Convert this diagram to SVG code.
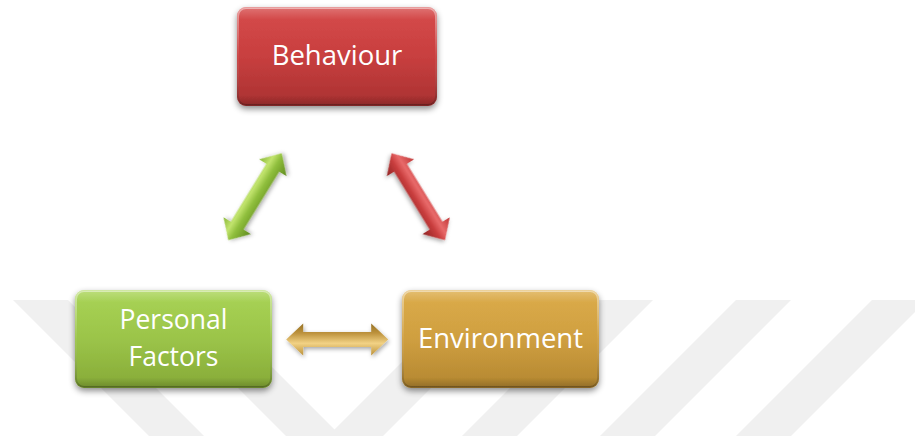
<svg xmlns="http://www.w3.org/2000/svg" width="915" height="436" viewBox="0 0 915 436">
<defs>
<style>
.wm{fill:#f0f0f0}
.lbl{font-family:"Open Sans",Lato,"Liberation Sans",sans-serif;font-size:27.5px;font-weight:400;fill:#ffffff;text-anchor:middle}
.lbl2{font-size:26.5px}
.bevel{fill:url(#bevel);stroke:url(#edge);stroke-width:2}
</style>
<filter id="sh" x="-20%" y="-20%" width="140%" height="150%">
<feDropShadow dx="0" dy="3" stdDeviation="3" flood-color="#000" flood-opacity="0.45"/>
</filter>
<filter id="ash" x="-30%" y="-30%" width="160%" height="160%">
<feDropShadow dx="1" dy="2" stdDeviation="2" flood-color="#000" flood-opacity="0.35"/>
</filter>
<linearGradient id="gRed" x1="0" y1="0" x2="0" y2="1">
<stop offset="0" stop-color="#d64b4b"/><stop offset="0.5" stop-color="#c83f3f"/><stop offset="1" stop-color="#a93131"/>
</linearGradient>
<linearGradient id="gGreen" x1="0" y1="0" x2="0" y2="1">
<stop offset="0" stop-color="#a9d456"/><stop offset="0.5" stop-color="#9bc449"/><stop offset="1" stop-color="#86aa37"/>
</linearGradient>
<linearGradient id="gGold" x1="0" y1="0" x2="0" y2="1">
<stop offset="0" stop-color="#dcac4a"/><stop offset="0.5" stop-color="#cf9f40"/><stop offset="1" stop-color="#b38630"/>
</linearGradient>
<linearGradient id="bevel" x1="0" y1="0" x2="0" y2="1">
<stop offset="0" stop-color="#ffffff" stop-opacity="0.22"/><stop offset="0.12" stop-color="#ffffff" stop-opacity="0"/><stop offset="0.9" stop-color="#000000" stop-opacity="0"/><stop offset="1" stop-color="#000000" stop-opacity="0.18"/>
</linearGradient>
<linearGradient id="edge" x1="0" y1="0" x2="0" y2="1">
<stop offset="0" stop-color="#ffffff" stop-opacity="0.45"/><stop offset="0.5" stop-color="#ffffff" stop-opacity="0.05"/><stop offset="1" stop-color="#000000" stop-opacity="0.25"/>
</linearGradient>
<linearGradient id="aGreen" x1="0" y1="0" x2="0" y2="1">
<stop offset="0" stop-color="#86b634"/><stop offset="0.32" stop-color="#c2e46e"/><stop offset="0.55" stop-color="#8fbe3c"/><stop offset="1" stop-color="#5f8a1e"/>
</linearGradient>
<linearGradient id="aRed" x1="0" y1="0" x2="0" y2="1">
<stop offset="0" stop-color="#bf3434"/><stop offset="0.38" stop-color="#e86a6a"/><stop offset="0.6" stop-color="#c93e3e"/><stop offset="1" stop-color="#8f2424"/>
</linearGradient>
<linearGradient id="aGold" x1="0" y1="0" x2="0" y2="1">
<stop offset="0" stop-color="#967125"/><stop offset="0.3" stop-color="#bd923c"/><stop offset="0.62" stop-color="#f2d285"/><stop offset="1" stop-color="#bb9038"/>
</linearGradient>
<polygon id="dbl" points="-51,0 -34,-16 -34,-7.5 34,-7.5 34,-16 51,0 34,16 34,7.5 -34,7.5 -34,16"/>
</defs>
<rect width="915" height="436" fill="#ffffff"/>
<g id="watermark">
<polygon class="wm" points="13,300 68,300 204,436 149,436"/>
<polygon class="wm" points="150,300 205,300 341,436 286,436"/>
<polygon class="wm" points="464,300 519,300 383,436 328,436"/>
<polygon class="wm" points="598,300 653,300 517,436 462,436"/>
<polygon class="wm" points="736,300 791,300 655,436 600,436"/>
<polygon class="wm" points="872,300 927,300 791,436 736,436"/>
</g>
<g id="connectors">
<use href="#dbl" fill="url(#aGreen)" filter="url(#ash)" transform="translate(255,196.7) rotate(-58.4)"/>
<use href="#dbl" fill="url(#aRed)" filter="url(#ash)" transform="translate(418.3,196.7) rotate(58.4)"/>
<use href="#dbl" fill="url(#aGold)" filter="url(#ash)" transform="translate(337.2,339.5)"/>
</g>
<g id="behaviour">
<rect x="237" y="7" width="200" height="99" rx="9" fill="url(#gRed)" filter="url(#sh)"/>
<rect x="238" y="8" width="198" height="97" rx="8" class="bevel"/>
<text class="lbl" x="337" y="64.5">Behaviour</text>
</g>
<g id="personal">
<rect x="75" y="290" width="197" height="98" rx="9" fill="url(#gGreen)" filter="url(#sh)"/>
<rect x="76" y="291" width="195" height="96" rx="8" class="bevel"/>
<text class="lbl lbl2" x="173.5" y="329">Personal</text>
<text class="lbl lbl2" x="173.5" y="365.5">Factors</text>
</g>
<g id="environment">
<rect x="402" y="290" width="197" height="98" rx="9" fill="url(#gGold)" filter="url(#sh)"/>
<rect x="403" y="291" width="195" height="96" rx="8" class="bevel"/>
<text class="lbl" x="500.5" y="348.3">Environment</text>
</g>
</svg>
